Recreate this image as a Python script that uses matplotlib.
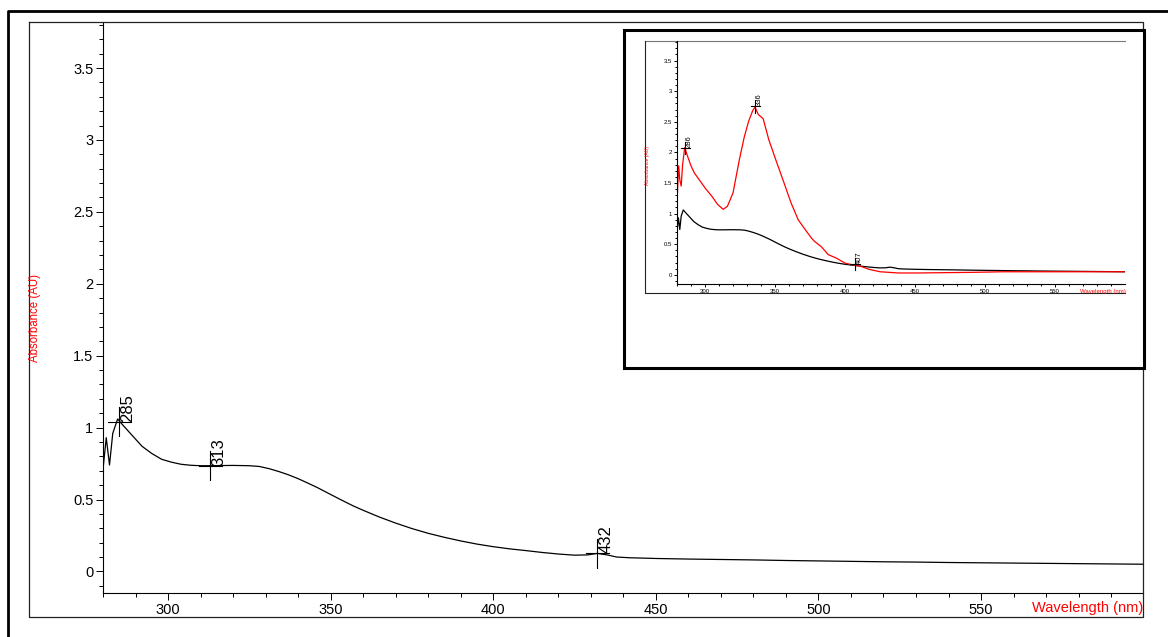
import matplotlib
matplotlib.use("Agg")
import matplotlib.pyplot as plt
from matplotlib import font_manager
from matplotlib.lines import Line2D
from matplotlib.patches import Rectangle
from matplotlib.ticker import MultipleLocator, FormatStrFormatter

# black spectrum (main plot and inset)
wl = [280, 281, 282, 283, 284.5, 286, 288, 290, 292, 295, 298, 301, 304, 307, 310, 313, 316, 320,
      325, 328, 331, 334, 337, 340, 343, 346, 350, 353, 357, 360, 365, 370, 375, 380, 385, 390,
      395, 400, 405, 410, 415, 420, 425, 429, 432, 435, 438, 442, 450, 460, 470, 480, 490, 500,
      510, 520, 530, 540, 550, 560, 570, 580, 590, 600]
absb = [0.71, 0.93, 0.74, 0.96, 1.06, 1.02, 0.97, 0.92, 0.87, 0.82, 0.78, 0.76, 0.745, 0.738, 0.735,
        0.735, 0.736, 0.737, 0.735, 0.73, 0.715, 0.695, 0.672, 0.645, 0.614, 0.582, 0.535, 0.50,
        0.455, 0.425, 0.378, 0.336, 0.298, 0.265, 0.237, 0.212, 0.19, 0.172, 0.157, 0.145, 0.132,
        0.121, 0.113, 0.115, 0.125, 0.115, 0.10, 0.095, 0.09, 0.086, 0.083, 0.08, 0.076, 0.073,
        0.07, 0.067, 0.065, 0.062, 0.06, 0.058, 0.056, 0.054, 0.052, 0.05]

# red spectrum (inset only)
red_wl = [280, 280.6, 281.2, 282, 283, 284, 285.5, 287.5, 290, 292.5, 296, 300, 305, 309, 313, 316,
          320, 324.5, 328, 331, 334, 335.7, 338, 341.5, 345.5, 350.5, 355.5, 361.5, 366.5, 371.5,
          376, 378, 383, 388, 394, 400, 406, 411, 417, 425, 438, 451, 470, 490, 513, 550, 575, 600]
red_abs = [1.15, 1.5, 1.78, 1.55, 1.45, 1.8, 2.08, 1.94, 1.78, 1.66, 1.55, 1.42, 1.28, 1.15, 1.07,
           1.12, 1.34, 1.88, 2.25, 2.5, 2.68, 2.74, 2.62, 2.55, 2.21, 1.88, 1.56, 1.17, 0.9, 0.74,
           0.6, 0.55, 0.46, 0.33, 0.27, 0.19, 0.16, 0.14, 0.09, 0.05, 0.03, 0.03, 0.035, 0.04,
           0.05, 0.05, 0.05, 0.05]

peak_wl = [285, 313, 432]
peak_abs = [1.04, 0.735, 0.125]
peak_lbl = ["285", "313", "432"]

ins_peak_wl = [286, 336, 407]
ins_peak_abs = [2.07, 2.75, 0.18]
ins_peak_lbl = ["286", "336", "407"]

names = {f.name for f in font_manager.fontManager.ttflist}
narrow = "Liberation Sans Narrow" if "Liberation Sans Narrow" in names else "Liberation Sans"
plt.rcParams["font.family"] = [narrow, "DejaVu Sans"]

W, H = 1168, 637
fig = plt.figure(figsize=(W / 100, H / 100), dpi=100)


def px(x0, y0, x1, y1):
    # pixel box -> figure fraction [left, bottom, width, height]
    return [x0 / W, 1 - y1 / H, (x1 - x0) / W, (y1 - y0) / H]


def fline(xs, ys, lw=1.0, color="black", z=2):
    fig.add_artist(Line2D([x / W for x in xs], [1 - y / H for y in ys], lw=lw, color=color,
                          transform=fig.transFigure, zorder=z))


# outer frames
fline([8, 8, W], [H, 11, 11], lw=2.0)
fline([29, 1143, 1143, 29, 29], [22, 22, 617, 617, 22], lw=0.9, color="#222222")


def style_axes(ax, fs, major_len, minor_len, pad):
    ax.set_xlim(280, 599.8)
    ax.set_ylim(-0.15, 3.82)
    ax.spines["top"].set_visible(False)
    ax.spines["right"].set_visible(False)
    for s in ("left", "bottom"):
        ax.spines[s].set_linewidth(0.8)
    ax.xaxis.set_major_locator(MultipleLocator(50))
    ax.xaxis.set_minor_locator(MultipleLocator(10))
    ax.yaxis.set_major_locator(MultipleLocator(0.5))
    ax.yaxis.set_minor_locator(MultipleLocator(0.1))
    ax.yaxis.set_major_formatter(FormatStrFormatter("%g"))
    ax.tick_params(which="major", length=major_len, width=0.7, labelsize=fs, pad=pad)
    ax.tick_params(which="minor", length=minor_len, width=0.7)
    ax.patch.set_alpha(0)


def mark_peaks(ax, xs, ys, labels, fs, color="black"):
    for x, y, t in zip(xs, ys, labels):
        ax.plot([x - 3.5, x + 3.5], [y, y], color=color, lw=0.8)
        ax.plot([x, x], [y - 0.1, y + 0.1], color=color, lw=0.8)
        ax.text(x + 0.4, y, t, rotation=90, ha="left", va="bottom", fontsize=fs, color=color)


# main plot
ax = fig.add_axes(px(103, 22, 1143, 593))
style_axes(ax, 10.5, 5, 3, 2)
ax.plot(wl, absb, color="black", lw=0.9)
mark_peaks(ax, peak_wl, peak_abs, peak_lbl, 12)
fig.text(35 / W, 1 - 318 / H, "Absorbance (AU)", rotation=90, ha="center", va="center",
         color="red", fontsize=8.3, family=["Liberation Sans", "DejaVu Sans"])
fig.text(1143 / W, 1 - 608 / H, "Wavelength (nm)", ha="right", va="center", color="red",
         fontsize=10.5)

# inset
fig.add_artist(Rectangle((624 / W, 1 - 368 / H), 520 / W, 338 / H, transform=fig.transFigure,
                         facecolor="white", edgecolor="black", lw=2.2, zorder=3))
fline([645, 1125], [41, 41], lw=0.8, color="#777777", z=5)
fline([645, 645, 1125], [41, 293, 293], lw=0.8, color="#222222", z=5)

ins = fig.add_axes(px(677, 41, 1125, 284))
ins.set_zorder(6)
style_axes(ins, 4.3, 2.5, 1.5, 1)
ins.plot(wl, absb, color="black", lw=0.9)
ins.plot(red_wl, red_abs, color="red", lw=0.9)
mark_peaks(ins, ins_peak_wl, ins_peak_abs, ins_peak_lbl, 5.5)
t1 = fig.text(648 / W, 1 - 166 / H, "Absorbance (AU)", rotation=90, ha="center", va="center",
              color="red", fontsize=3.6, family=["Liberation Sans", "DejaVu Sans"])
t2 = fig.text(1126 / W, 1 - 292 / H, "Wavelength (nm)", ha="right", va="center", color="red",
              fontsize=4.3)
t1.set_zorder(7)
t2.set_zorder(7)

fig.savefig("out.png", dpi=100)
